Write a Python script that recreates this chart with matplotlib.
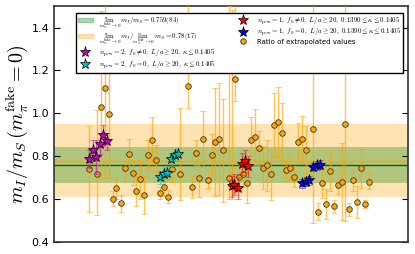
import numpy as np
import matplotlib
matplotlib.use("Agg")
import matplotlib.pyplot as plt
from matplotlib.patches import Patch
from matplotlib.lines import Line2D

plt.rcParams['mathtext.fontset'] = 'cm'
plt.rcParams['font.family'] = 'DejaVu Sans'

# ratio of extrapolated values (orange circles)
ratio_x = [35, 42.7, 47, 50.7, 55, 58.7, 62.3, 66.7, 70.7, 74.7, 78.7, 82, 86.3, 90,
           94.3, 98.3, 102.3, 106.3, 110, 114, 118, 125.7, 134.3, 137.7, 141.7, 145.3,
           149, 153.7, 157.7, 161.3, 165.3, 169, 175, 178, 181, 185, 188.7, 192.7, 196.7,
           200.7, 204.7, 208.7, 212.7, 216.7, 220.3, 224.3, 228.3, 232, 236, 240, 244,
           248, 252, 259.5, 263.7, 267.7, 271.7, 275.7, 279.7, 283.7, 287.7, 291.5,
           295.3, 299.3, 303.3, 307, 311, 315]
ratio_y = [0.741, 0.716, 1.029, 1.116, 0.999, 0.601, 0.651, 0.581, 0.746, 0.809, 0.724,
           0.637, 0.693, 0.619, 0.806, 0.874, 0.783, 0.629, 0.657, 0.611, 0.740, 0.715,
           1.127, 0.656, 0.817, 0.698, 0.880, 0.690, 0.805, 0.867, 0.880, 0.829, 0.700,
           0.680, 1.158, 0.702, 0.715, 0.674, 0.874, 0.890, 0.839, 0.746, 0.758, 0.715,
           0.946, 0.961, 0.907, 0.736, 0.747, 0.705, 0.867, 0.879, 0.829, 0.929, 0.541,
           0.674, 0.577, 0.729, 0.567, 0.665, 0.682, 0.949, 0.553, 0.690, 0.586, 0.744,
           0.578, 0.681]
ratio_lo = [0.20, 0.19, 0.33, 0.40, 0.30, 0.035, 0.05, 0.04, 0.06, 0.07, 0.06, 0.07, 0.09,
            0.09, 0.07, 0.11, 0.07, 0.03, 0.04, 0.03, 0.06, 0.12, 0.10, 0.05, 0.06, 0.09,
            0.13, 0.04, 0.10, 0.25, 0.26, 0.24, 0.10, 0.08, 0.10, 0.06, 0.06, 0.09, 0.11,
            0.13, 0.08, 0.10, 0.12, 0.12, 0.15, 0.16, 0.14, 0.05, 0.06, 0.05, 0.09, 0.11,
            0.11, 0.44, 0.04, 0.07, 0.07, 0.09, 0.03, 0.04, 0.18, 0.45, 0.03, 0.05, 0.075,
            0.09, 0.02, 0.035]
ratio_hi = [0.20, 0.30, 0.45, 0.45, 0.45, 0.035, 0.05, 0.04, 0.06, 0.07, 0.06, 0.07, 0.09,
            0.09, 0.07, 0.11, 0.07, 0.03, 0.04, 0.03, 0.06, 0.31, 0.45, 0.05, 0.06, 0.09,
            0.13, 0.04, 0.10, 0.25, 0.26, 0.24, 0.80, 0.80, 0.45, 0.06, 0.06, 0.09, 0.11,
            0.13, 0.08, 0.10, 0.12, 0.12, 0.15, 0.16, 0.14, 0.05, 0.06, 0.05, 0.09, 0.11,
            0.11, 0.60, 0.04, 0.07, 0.07, 0.09, 0.03, 0.04, 0.18, 0.60, 0.03, 0.05, 0.075,
            0.09, 0.02, 0.035]

# npow=2, f0 != 0
mag_x = [35, 38.7, 42.3, 46, 49, 52.7]
mag_y = [0.787, 0.828, 0.795, 0.859, 0.898, 0.870]
mag_err = [0.04, 0.05, 0.08, 0.05, 0.05, 0.04]
# npow=2, f0 = 0
cyan_x = [106.3, 109.8, 113.5, 117, 120.7, 124.3]
cyan_y = [0.701, 0.715, 0.722, 0.786, 0.806, 0.809]
cyan_err = [0.03, 0.03, 0.03, 0.03, 0.03, 0.03]
# npow=1, f0 != 0
red_x = [178, 180.3, 183.7, 187.7, 191, 193.7]
red_y = [0.660, 0.668, 0.653, 0.763, 0.778, 0.753]
red_err = [0.05, 0.05, 0.05, 0.05, 0.05, 0.05]
# npow=1, f0 = 0
blue_x = [247.7, 251.7, 255, 259.3, 262.7, 266]
blue_y = [0.673, 0.681, 0.688, 0.750, 0.757, 0.761]
blue_err = [0.02, 0.02, 0.02, 0.02, 0.02, 0.02]

lim_ratio, lim_ratio_err = 0.759, 0.084
ratio_lim, ratio_lim_err = 0.78, 0.17

fig = plt.figure(figsize=(4.15, 2.54), dpi=100)
ax = fig.add_axes([0.130, 0.047, 0.853, 0.929])

ax.axhspan(ratio_lim - ratio_lim_err, ratio_lim + ratio_lim_err, color='orange', alpha=0.3, lw=0, zorder=0)
ax.axhspan(lim_ratio - lim_ratio_err, lim_ratio + lim_ratio_err, color='green', alpha=0.3, lw=0, zorder=0)
ax.axhline(ratio_lim, color='orange', lw=1, zorder=1)
ax.axhline(lim_ratio, color='darkgreen', lw=1, zorder=1)

eb = ax.errorbar(ratio_x, ratio_y, yerr=[ratio_lo, ratio_hi], fmt='o', color='orange',
                 ms=4, mec='#333333', mew=0.6, ecolor='orange', elinewidth=1, capsize=2,
                 zorder=3)
for line in eb[1] + eb[2]:
    line.set_alpha(0.65)

for xs, ys, es, c in [(mag_x, mag_y, mag_err, 'm'), (cyan_x, cyan_y, cyan_err, 'c'),
                      (red_x, red_y, red_err, 'r'), (blue_x, blue_y, blue_err, 'b')]:
    eb = ax.errorbar(xs, ys, yerr=es, fmt='*', color=c, ms=8, mec='k', mew=0.5,
                     ecolor=c, elinewidth=1, capsize=2, zorder=4)
    for line in eb[1] + eb[2]:
        line.set_alpha(0.6)

ax.set_xlim(0, 354)
ax.set_ylim(0.4, 1.5)
ax.set_yticks([0.4, 0.6, 0.8, 1.0, 1.2, 1.4])
ax.set_xticks([])
ax.tick_params(axis='y', direction='in', right=True, labelsize=8, length=4)
for s in ax.spines.values():
    s.set_color('#333333')
    s.set_linewidth(1.2)
ax.set_ylabel(r'$m_I/m_S\,(m_\pi^{\rm fake}=0)$', fontsize=14.5, labelpad=1)

handles = [
    Patch(color='green', alpha=0.3),
    Patch(color='orange', alpha=0.3),
    Line2D([], [], ls='', marker='*', color='m', ms=8, mec='k', mew=0.5),
    Line2D([], [], ls='', marker='*', color='c', ms=8, mec='k', mew=0.5),
    Line2D([], [], ls='', marker='*', color='r', ms=8, mec='k', mew=0.5),
    Line2D([], [], ls='', marker='*', color='b', ms=8, mec='k', mew=0.5),
    Line2D([], [], ls='', marker='o', color='orange', ms=4, mec='#333333', mew=0.6),
]
labels = [
    r'$\lim_{m_\pi^{\rm fake}\to 0}\, m_I/m_S = 0.759(84)$',
    r'$\lim_{m_\pi^{\rm fake}\to 0}\, m_I/\lim_{m_\pi^{\rm fake}\to 0}\, m_S = 0.78(17)$',
    r'$n_{\rm pow}=2,\ f_0\neq 0,\ L/a\geq 20,\ \kappa\leq 0.1405$',
    r'$n_{\rm pow}=2,\ f_0=0,\ L/a\geq 20,\ \kappa\leq 0.1405$',
    r'$n_{\rm pow}=1,\ f_0\neq 0,\ L/a\geq 20,\ 0.1390\leq\kappa\leq 0.1405$',
    r'$n_{\rm pow}=1,\ f_0=0,\ L/a\geq 20,\ 0.1390\leq\kappa\leq 0.1405$',
    'Ratio of extrapolated values',
]
leg = ax.legend(handles, labels, ncol=2, loc='upper right', fontsize=5,
                fancybox=False, framealpha=1, edgecolor='k',
                bbox_to_anchor=(0.995, 0.985), borderpad=0.3, labelspacing=0.05,
                columnspacing=2.9, handlelength=2.2, handletextpad=0.8)
leg.get_frame().set_linewidth(1)
leg.set_zorder(10)

fig.savefig('out.png', dpi=100)
